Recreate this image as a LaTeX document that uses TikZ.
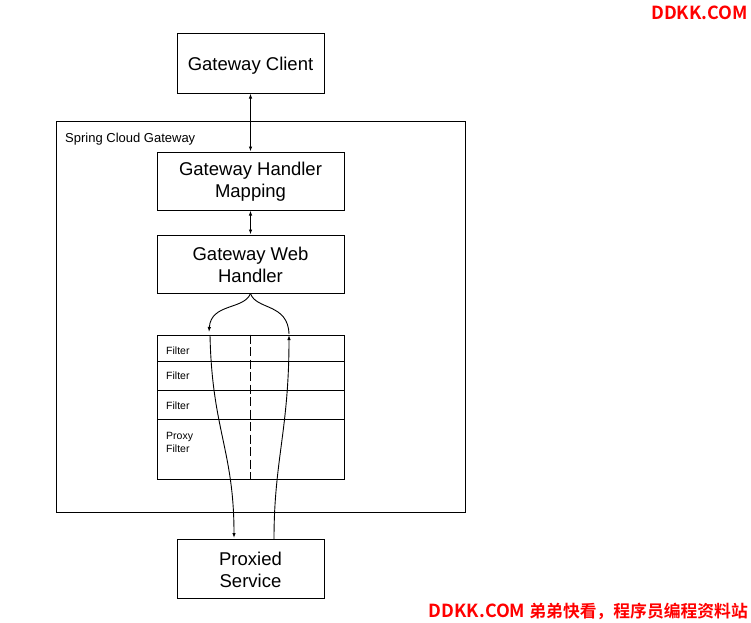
\documentclass[tikz,border=0pt]{standalone}
\usepackage{fontspec}
\setmainfont{Liberation Sans}
\newfontfamily\cjk{Noto Sans CJK SC}[BoldFont={* Bold}]
\usetikzlibrary{arrows.meta}
\definecolor{wmred}{RGB}{255,0,0}
\tikzset{
  box/.style={draw, line width=1pt, inner sep=0pt},
  boxtext/.style={align=center, font=\fontsize{18.5}{22}\selectfont, inner sep=0pt, yshift=-3pt},
  boxtexttwo/.style={boxtext, yshift=2pt},
  rowbox/.style={draw, line width=1pt, minimum width=187pt, inner sep=0pt},
  small/.style={font=\fontsize{10.5}{13}\selectfont, anchor=west, inner sep=0pt},
  conn/.style={line width=0.9pt},
  tip/.style={-{Latex[length=5pt,width=3.5pt]}},
  dtip/.style={{Latex[length=5pt,width=3.5pt]}-{Latex[length=5pt,width=3.5pt]}},
  wm/.style={text=wmred, font=\cjk\bfseries\fontsize{18}{21}\selectfont, anchor=east, inner sep=0pt}
}
\begin{document}
\begin{tikzpicture}[x=1pt,y=-1pt]
\useasboundingbox (0,0) rectangle (751,622);
% outer gateway
\node[draw, line width=1pt, minimum width=409pt, minimum height=391pt, inner sep=0pt] (scg) at (260.5,316.5) {};
\node[anchor=west, inner sep=0pt, font=\fontsize{13}{15}\selectfont] (scglabel) at (65,139) {Spring Cloud Gateway};
% boxes
\node[box, minimum width=147pt, minimum height=60pt, label={[boxtext]center:Gateway Client}] (client) at (250.5,63) {};
\node[box, minimum width=187pt, minimum height=58pt, label={[boxtexttwo]center:{Gateway Handler\\Mapping}}] (mapping) at (250.5,181) {};
\node[box, minimum width=187pt, minimum height=58pt, label={[boxtexttwo]center:{Gateway Web\\Handler}}] (web) at (250.5,264) {};
\node[box, minimum width=147pt, minimum height=59pt, label={[boxtexttwo]center:{Proxied\\Service}}] (proxied) at (250.5,568.5) {};
% filter rows
\node[rowbox, minimum height=26pt] (f1) at (250.5,348) {};
\node[rowbox, minimum height=29pt] (f2) at (250.5,375.5) {};
\node[rowbox, minimum height=29pt] (f3) at (250.5,404.5) {};
\node[rowbox, minimum height=60pt] (f4) at (250.5,449) {};
\node[small] (l1) at (166,351) {Filter};
\node[small] (l2) at (166,376) {Filter};
\node[small] (l3) at (166,406) {Filter};
\node[small, align=left] (l4) at (166,442) {Proxy\\Filter};
% dashed divider
\draw[line width=0.9pt, dash pattern=on 9pt off 3.5pt] (f1.north) -- (f4.south);
% straight arrows
\draw[conn, dtip] (client.south) -- (mapping.north);
\draw[conn, dtip] (mapping.south) -- (web.north);
% curved connectors
\coordinate (ltop) at (209,332);
\coordinate (rtop) at (289,335);
\coordinate (lbot) at (234,538);
\coordinate (rbot) at (274,539);
\draw[conn, tip] (web.south) .. controls (244,310) and (211,303) .. (ltop);
\draw[conn] (web.south) .. controls (256,310) and (288,303) .. (289,334);
\draw[conn, tip] (210,335) .. controls (212,430) and (234,450) .. (lbot);
\draw[conn, tip] (rbot) .. controls (274,460) and (289,430) .. (rtop);
% watermarks
\node[wm] (wm1) at (748,13) {DDKK.COM};
\node[wm] (wm2) at (748,611) {DDKK.COM {\fontsize{16.8}{20}\selectfont 弟弟快看，程序员编程资料站}};
\end{tikzpicture}
\end{document}
